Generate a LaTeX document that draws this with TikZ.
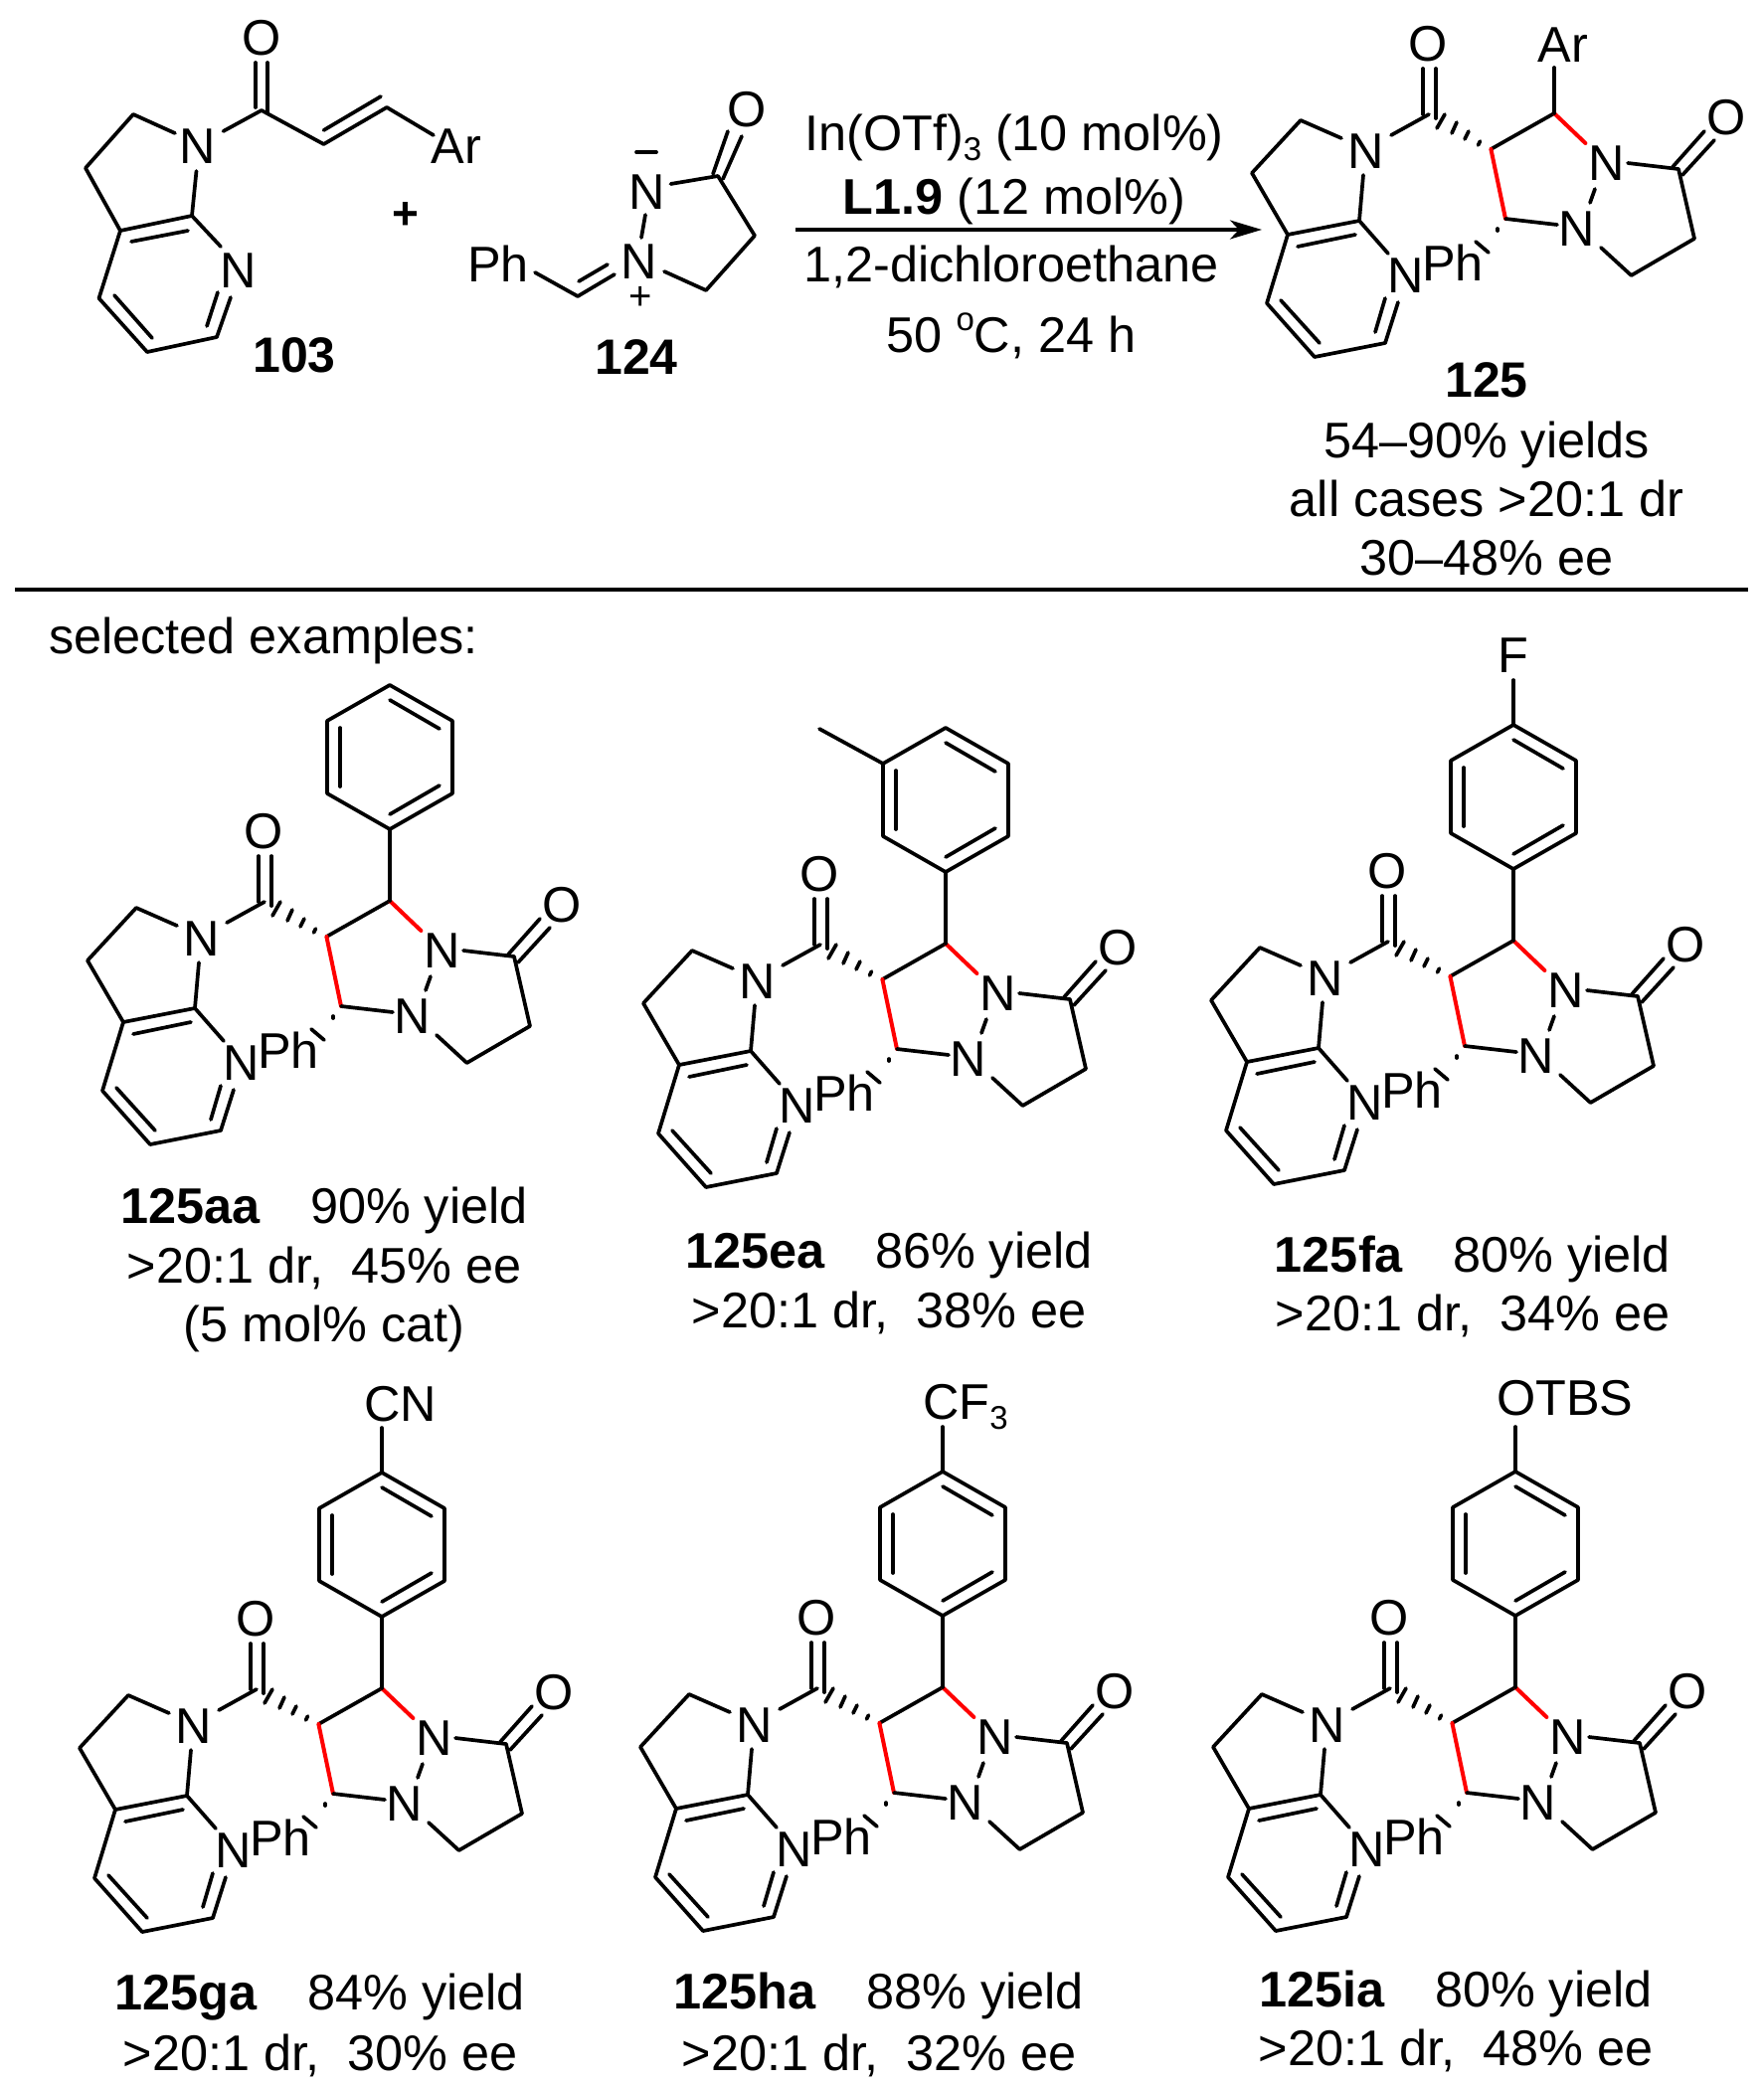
\documentclass[tikz,border=0pt]{standalone}
\usepackage{fontspec}
\setmainfont{Liberation Sans}
\usetikzlibrary{arrows.meta}
\newcommand{\lowsub}[1]{\raisebox{-0.2em}{\fontsize{33}{33}\selectfont #1}}
\newcommand{\upsup}[1]{\raisebox{0.42em}{\fontsize{33}{33}\selectfont #1}}
\tikzset{
  bond/.style={line width=3.7pt,line cap=round,line join=round,black},
  redbond/.style={line width=4pt,line cap=round,line join=round,red},
  atom/.style={inner sep=0pt,font=\fontsize{50.4}{51}\selectfont},
  txt/.style={inner sep=0pt,anchor=base,font=\fontsize{50.4}{60}\selectfont},
  lbl/.style={inner sep=0pt,anchor=base,font=\fontsize{50}{60}\selectfont\bfseries},
}
% product skeleton, origin at the CH bearing the aryl group; #1 = name prefix
\newcommand{\prodskel}[1]{
  \node[atom] (#1N1) at (53,50) {N};
  \node[atom] (#1N2) at (23,116) {N};
  \node[atom] (#1Oa) at (173,4) {O};
  \node[atom] (#1Ob) at (-127,-70) {O};
  \node[atom] (#1N3) at (-189,38) {N};
  \node[atom] (#1N4) at (-149,163) {N};
  \node[atom] (#1Ph) at (-102,150) {Ph};
  \draw[bond] (-63.6,36) -- (0,0);
  \draw[redbond] (0,0) -- (31.4,30);
  \draw[redbond] (-63.6,36) -- (-49,106);
  \draw[bond] (-49,106) -- (3,112);
  \draw[bond] (41,76) -- (36,90);
  \draw[bond] (74,50) -- (125,56) -- (141,126) -- (77.5,163) -- (47,135);
  \draw[bond] (119,54) -- (151,18);
  \draw[bond] (129,62) -- (161,27);
  % hashed wedge to the carbonyl
  \draw[bond] (-74.5,28) -- (-76.5,32);
  \draw[bond] (-86,18) -- (-90,26);
  \draw[bond] (-98,9) -- (-103,20);
  \draw[bond] (-110,1) -- (-118,15);
  % hashed wedge to Ph
  \draw[bond] (-57,116) -- (-57,118);
  \draw[bond] (-79,129) -- (-66,140);
  % amide
  \draw[bond] (-132,-45) -- (-132,1);
  \draw[bond] (-119,-45) -- (-119,5);
  \draw[bond] (-126,1) -- (-164,22);
  % azaindoline
  \draw[bond] (-214,25) -- (-255,7) -- (-304,60) -- (-268,122) -- (-196,108) -- (-192,62);
  \draw[bond] (-258,134) -- (-200,122);
  \draw[bond] (-196,108) -- (-167,141);
  \draw[bond] (-268,122) -- (-289,191) -- (-241,245) -- (-170,231) -- (-157,190);
  \draw[bond] (-275,188) -- (-236,231);
  \draw[bond] (-180,220) -- (-170,186);
}
\newcommand{\arylring}{
  \draw[bond] (0,0) -- (0,-72);
  \draw[bond] (0,-72) -- (63,-108) -- (63,-181) -- (0,-217) -- (-63,-181) -- (-63,-108) -- cycle;
  \draw[bond] (0,-202) -- (50,-173);
  \draw[bond] (0,-87) -- (50,-116);
  \draw[bond] (-50,-174) -- (-50,-115);
}
\begin{document}
\begin{tikzpicture}[x=1pt,y=-1pt]
\useasboundingbox (0,0) rectangle (1774,2098);
% ---------- 103
\node[atom] (aO) at (263,38) {O};
\node[atom] (aN) at (199,147) {N};
\node[atom] (aAr) at (459,147) {Ar};
\node[atom] (aNp) at (240,272) {N};
\draw[bond] (257,63) -- (257,108);
\draw[bond] (269,63) -- (269,113);
\draw[bond] (224.5,132) -- (263,111) -- (325.5,145) -- (389,108) -- (436,136);
\draw[bond] (325.5,131) -- (383,97);
\draw[bond] (176,134) -- (134,115) -- (86,169) -- (121,232) -- (193,217) -- (197.5,172);
\draw[bond] (132,243) -- (189,232);
\draw[bond] (193,217) -- (222,248);
\draw[bond] (121,232) -- (99.5,300) -- (148,354) -- (218,339) -- (232,299);
\draw[bond] (115,297) -- (153,340);
\draw[bond] (208,328) -- (219,294);
\node[lbl] (l103) at (296,374) {103};
\node[inner sep=0pt,font=\fontsize{46}{46}\selectfont\bfseries] (plus) at (408,217) {+};
% ---------- 124
\node[atom] (bO) at (751,110) {O};
\node[atom] (bNm) at (650.5,193) {N};
\node[atom] (bNp) at (643,263) {N};
\node[atom] (bPh) at (501,265) {Ph};
\node[inner sep=0pt,font=\fontsize{40}{40}\selectfont] (bplus) at (644,300) {+};
\draw[bond] (640,153) -- (660,153);
\draw[bond] (732,132) -- (717,175);
\draw[bond] (746,137) -- (727,180);
\draw[bond] (674.5,185) -- (722,177) -- (759,237) -- (710,292) -- (668,273);
\draw[bond] (649,216) -- (645,239);
\draw[bond] (538,274) -- (581,298) -- (618,276);
\draw[bond] (582,283) -- (611,266);
\node[lbl] (l124) at (640,376) {124};
% ---------- arrow and conditions
\coordinate (arS) at (800,231);
\coordinate (arE) at (1269,231);
\draw[line width=3.3pt,-{Stealth[length=32pt,width=19pt,inset=9pt]}] (arS) -- (arE);
\node[txt] (c1) at (1020,151) {In(OTf)\lowsub{3} (10 mol\%)};
\node[txt] (c2) at (1020,215) {\textbf{L1.9} (12 mol\%)};
\node[txt] (c3) at (1017,283) {1,2-dichloroethane};
\node[txt] (c4) at (1017,354) {50 \upsup{o}C, 24 h};
% ---------- 125
\begin{scope}[shift={(1563,114)}]
  \prodskel{p}
  \draw[bond] (0,0) -- (0,-46);
  \node[atom] (pAr) at (9,-69) {Ar};
\end{scope}
\node[lbl] (l125) at (1495,399) {125};
\node[txt] (y1) at (1495,460) {54–90\% yields};
\node[txt] (y2) at (1495,519) {all cases >20:1 dr};
\node[txt] (y3) at (1495,578) {30–48\% ee};
% ---------- rule
\coordinate (ruleL) at (15,593);
\coordinate (ruleR) at (1758,593);
\draw[line width=3.3pt] (ruleL) -- (ruleR);
\node[txt,anchor=base west] (sel) at (49,657) {selected examples:};
% ---------- 125aa
\begin{scope}[shift={(392,906)}]
  \prodskel{aa}
  \arylring
\end{scope}
\node[txt] (aa1) at (326,1230) {\textbf{125aa}\hspace{1.0em}90\% yield};
\node[txt] (aa2) at (326,1290) {>20:1 dr,\hspace{0.56em}45\% ee};
\node[txt] (aa3) at (326,1349) {(5 mol\% cat)};
% ---------- 125ea
\begin{scope}[shift={(951,949)}]
  \prodskel{ea}
  \arylring
  \draw[bond] (-63,-181) -- (-127,-216);
\end{scope}
\node[txt] (ea1) at (894,1275) {\textbf{125ea}\hspace{1.0em}86\% yield};
\node[txt] (ea2) at (894,1335) {>20:1 dr,\hspace{0.56em}38\% ee};
% ---------- 125fa
\begin{scope}[shift={(1522,946)}]
  \prodskel{fa}
  \arylring
  \draw[bond] (0,-217) -- (0,-262);
  \node[atom] (faF) at (0,-287) {F};
\end{scope}
\node[txt] (fa1) at (1481,1279) {\textbf{125fa}\hspace{1.0em}80\% yield};
\node[txt] (fa2) at (1481,1338) {>20:1 dr,\hspace{0.56em}34\% ee};
% ---------- 125ga
\begin{scope}[shift={(384,1698)}]
  \prodskel{ga}
  \arylring
  \draw[bond] (0,-217) -- (0,-262);
  \node[atom] (gaCN) at (19,-286) {CN};
\end{scope}
\node[txt] (ga1) at (322,2021) {\textbf{125ga}\hspace{1.0em}84\% yield};
\node[txt] (ga2) at (322,2082) {>20:1 dr,\hspace{0.56em}30\% ee};
% ---------- 125ha
\begin{scope}[shift={(948,1697)}]
  \prodskel{ha}
  \arylring
  \draw[bond] (0,-217) -- (0,-262);
  \node[atom,anchor=base west] (haCF) at (-20,-270) {CF\lowsub{3}};
\end{scope}
\node[txt] (ha1) at (884,2020) {\textbf{125ha}\hspace{1.0em}88\% yield};
\node[txt] (ha2) at (884,2082) {>20:1 dr,\hspace{0.56em}32\% ee};
% ---------- 125ia
\begin{scope}[shift={(1524,1697)}]
  \prodskel{ia}
  \arylring
  \draw[bond] (0,-217) -- (0,-262);
  \node[atom,anchor=base west] (iaO) at (-19,-274) {OTBS};
\end{scope}
\node[txt] (ia1) at (1464,2018) {\textbf{125ia}\hspace{1.0em}80\% yield};
\node[txt] (ia2) at (1464,2077) {>20:1 dr,\hspace{0.56em}48\% ee};
\end{tikzpicture}
\end{document}
